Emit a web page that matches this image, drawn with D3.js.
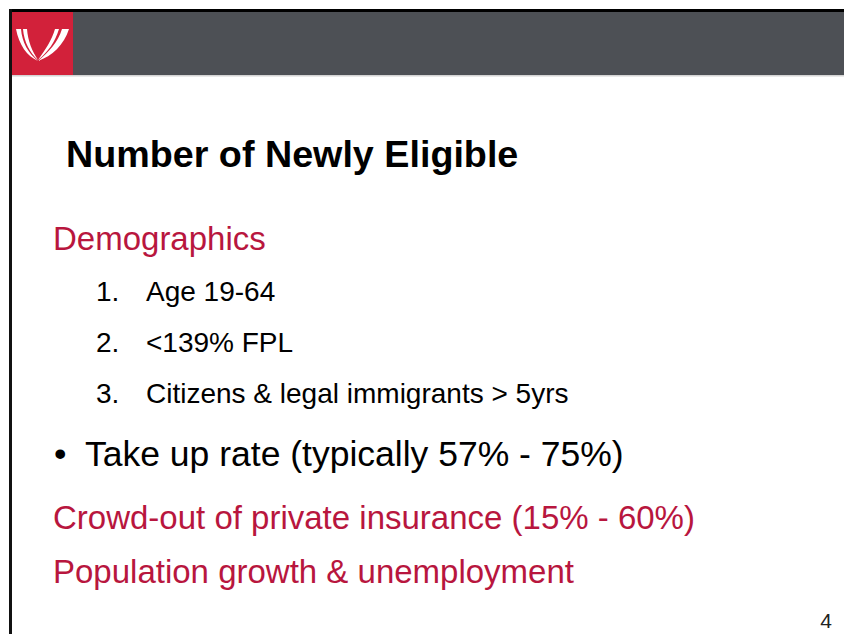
<!DOCTYPE html>
<html>
<head>
<meta charset="utf-8">
<script src="https://cdn.jsdelivr.net/npm/d3@7"></script>
<style>
  body { margin: 0; background: #fff; }
  svg { display: block; font-family: "Liberation Sans", Arial, sans-serif; }
</style>
</head>
<body>
<svg id="slide" width="844" height="634"></svg>
<script>
var title = 'Number of Newly Eligible';
var heading = 'Demographics';
var numberedItems = ['Age 19-64', '<139% FPL', 'Citizens & legal immigrants > 5yrs'];
var bulletItems = ['Take up rate (typically 57% - 75%)'];
var redItems = ['Crowd-out of private insurance (15% - 60%)', 'Population growth & unemployment'];
var pageNumber = '4';

var RED = '#b8163e';
var svg = d3.select('#slide');

// frame + header bar
svg.append('rect').attr('x', 0).attr('y', 0).attr('width', 844).attr('height', 634).attr('fill', '#fff');
svg.append('rect').attr('x', 9).attr('y', 9).attr('width', 835).attr('height', 3).attr('fill', '#000');
svg.append('rect').attr('x', 9).attr('y', 9).attr('width', 3).attr('height', 625).attr('fill', '#111');
svg.append('rect').attr('x', 12).attr('y', 12).attr('width', 832).attr('height', 63).attr('fill', '#4d5055');
svg.append('rect').attr('x', 12).attr('y', 75).attr('width', 832).attr('height', 1.5).attr('fill', '#d4d4d4');
svg.append('rect').attr('x', 12).attr('y', 12).attr('width', 61).attr('height', 63).attr('fill', '#d2213a');

// logo swooshes
var logo = svg.append('g').attr('fill', '#fff');
logo.append('path').attr('d', 'M16,29 L21,29 C22,42 28,53 38,61 C27,56 19,45 16,29 Z');
logo.append('path').attr('d', 'M23,29 L27,29 C28,41 32,51 38,60 C30,53 24,42 23,29 Z');
logo.append('path').attr('d', 'M62,29 L69,29 C64,45 52,56 38,61 C49,52 58,42 62,29 Z');
logo.append('path').attr('d', 'M55,29 L59,29 C55,42 48,52 38,60 C45,50 52,40 55,29 Z');

// title
svg.append('text').attr('x', 66).attr('y', 167)
  .attr('font-size', 37.7).attr('font-weight', 'bold').attr('fill', '#000')
  .text(title);

// heading
svg.append('text').attr('x', 53).attr('y', 250)
  .attr('font-size', 33).attr('fill', RED).text(heading);

// numbered sub-list
var numY = d3.scalePoint().domain(d3.range(numberedItems.length)).range([301, 403]);
var num = svg.selectAll('g.num').data(numberedItems).join('g').attr('class', 'num')
  .attr('transform', function(d, i) { return 'translate(0,' + numY(i) + ')'; });
num.append('text').attr('x', 96).attr('font-size', 28).attr('fill', '#000')
  .text(function(d, i) { return (i + 1) + '.'; });
num.append('text').attr('x', 146).attr('font-size', 28).attr('fill', '#000')
  .text(function(d) { return d; });

// bullet line
var bul = svg.selectAll('g.bul').data(bulletItems).join('g').attr('class', 'bul')
  .attr('transform', 'translate(0,466)');
bul.append('text').attr('x', 54).attr('font-size', 35.5).attr('fill', '#000').text('\u2022');
bul.append('text').attr('x', 85).attr('font-size', 35.5).attr('fill', '#000').text(function(d) { return d; });

// red lines
var redY = d3.scalePoint().domain(d3.range(redItems.length)).range([529, 583]);
svg.selectAll('text.red').data(redItems).join('text').attr('class', 'red')
  .attr('x', 53).attr('y', function(d, i) { return redY(i); })
  .attr('font-size', 33).attr('fill', RED).text(function(d) { return d; });

// page number
svg.append('text').attr('x', 832).attr('y', 628).attr('text-anchor', 'end')
  .attr('font-size', 21).attr('fill', '#222').text(pageNumber);
</script>
</body>
</html>
